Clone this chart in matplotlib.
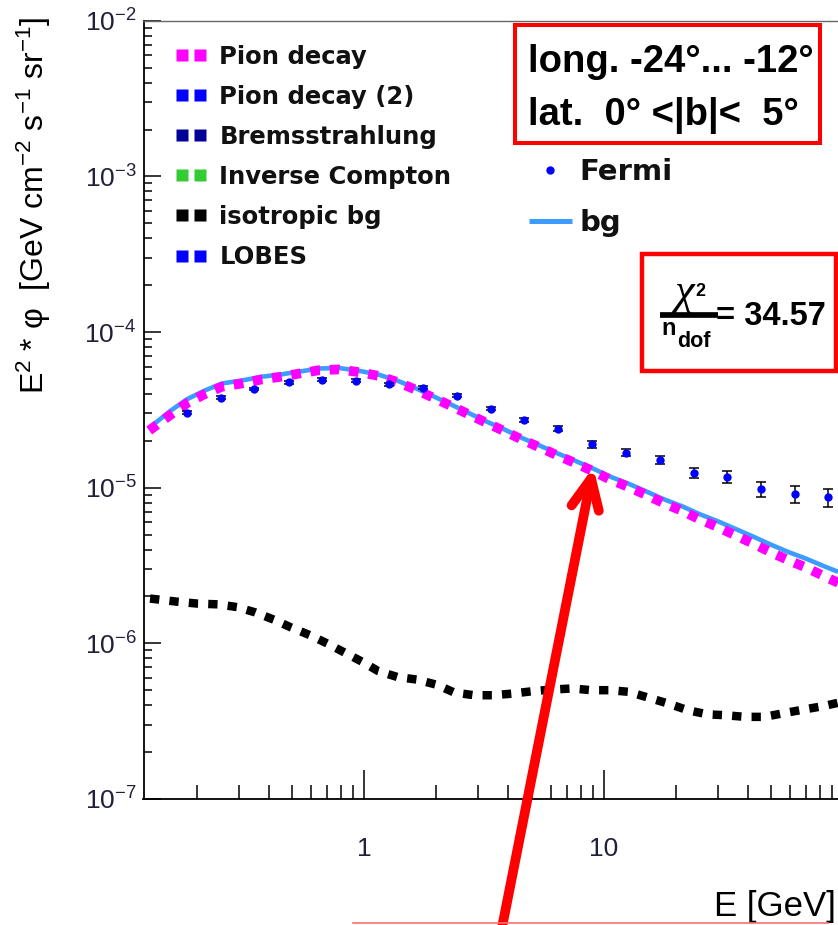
import numpy as np
import matplotlib
matplotlib.use('Agg')
import matplotlib.pyplot as plt
from matplotlib.lines import Line2D
from matplotlib.patches import Rectangle
from matplotlib.ticker import FixedLocator, LogLocator, NullFormatter, FixedFormatter, LogFormatterSciNotation

plt.rcParams['font.family'] = ['Liberation Sans', 'DejaVu Sans']
plt.rcParams['mathtext.fontset'] = 'custom'
plt.rcParams['mathtext.rm'] = 'Liberation Sans'
plt.rcParams['mathtext.it'] = 'Liberation Sans:italic'
plt.rcParams['mathtext.bf'] = 'Liberation Sans:bold'

# ---------------- data ----------------
fermi_E = [0.183, 0.252, 0.348, 0.485, 0.668, 0.926, 1.275, 1.768, 2.45, 3.38,
           4.67, 6.47, 8.96, 12.4, 17.1, 23.7, 32.8, 45.2, 62.6, 86.5]
fermi_F = [3.04e-5, 3.78e-5, 4.31e-5, 4.74e-5, 4.93e-5, 4.86e-5, 4.61e-5, 4.38e-5, 3.90e-5, 3.22e-5,
           2.73e-5, 2.39e-5, 1.90e-5, 1.68e-5, 1.50e-5, 1.25e-5, 1.17e-5, 9.8e-6, 9.1e-6, 8.65e-6]
fermi_relerr = [0.02, 0.02, 0.02, 0.02, 0.02, 0.02, 0.02, 0.02, 0.02, 0.025,
                0.03, 0.035, 0.05, 0.05, 0.06, 0.075, 0.09, 0.11, 0.13, 0.13]

model_E = [0.127, 0.155, 0.182, 0.215, 0.255, 0.311, 0.374, 0.446, 0.541, 0.651,
           0.789, 0.955, 1.147, 1.369, 1.632, 1.935, 2.29, 2.72, 3.24, 3.82,
           4.55, 5.34, 6.36, 7.59, 9.00, 10.6, 12.7, 15.0, 17.7, 21.2,
           25.0, 29.8, 35.3, 41.9, 49.4, 58.9, 69.8, 83.0, 95.0]
pion_F = [2.33e-5, 2.92e-5, 3.48e-5, 3.97e-5, 4.45e-5, 4.68e-5, 4.96e-5, 5.15e-5, 5.42e-5, 5.69e-5,
          5.75e-5, 5.52e-5, 5.23e-5, 4.79e-5, 4.28e-5, 3.80e-5, 3.37e-5, 2.97e-5, 2.61e-5, 2.32e-5,
          2.04e-5, 1.83e-5, 1.62e-5, 1.44e-5, 1.28e-5, 1.13e-5, 1.01e-5, 8.99e-6, 7.98e-6, 7.10e-6,
          6.28e-6, 5.60e-6, 4.95e-6, 4.38e-6, 3.87e-6, 3.42e-6, 3.07e-6, 2.70e-6, 2.45e-6]
bg_F = [2.42e-5, 3.10e-5, 3.69e-5, 4.19e-5, 4.67e-5, 4.89e-5, 5.16e-5, 5.33e-5, 5.58e-5, 5.83e-5,
        5.87e-5, 5.63e-5, 5.33e-5, 4.89e-5, 4.37e-5, 3.88e-5, 3.44e-5, 3.03e-5, 2.66e-5, 2.38e-5,
        2.09e-5, 1.88e-5, 1.67e-5, 1.49e-5, 1.33e-5, 1.18e-5, 1.06e-5, 9.48e-6, 8.46e-6, 7.60e-6,
        6.78e-6, 6.10e-6, 5.45e-6, 4.86e-6, 4.33e-6, 3.86e-6, 3.50e-6, 3.13e-6, 2.88e-6]

iso_E = [0.128, 0.167, 0.202, 0.246, 0.295, 0.352, 0.420, 0.493, 0.593, 0.703,
         0.836, 0.986, 1.148, 1.377, 1.66, 2.00, 2.38, 2.88, 3.47, 4.18,
         5.01, 6.09, 7.40, 8.88, 10.7, 12.7, 15.5, 18.6, 22.4, 27.0,
         32.4, 38.8, 46.8, 56.9, 69.2, 83.0, 95.0]
iso_F = [1.94e-6, 1.85e-6, 1.80e-6, 1.78e-6, 1.71e-6, 1.58e-6, 1.42e-6, 1.27e-6, 1.13e-6, 9.97e-7,
         8.67e-7, 7.59e-7, 6.62e-7, 6.08e-7, 5.85e-7, 5.43e-7, 4.83e-7, 4.64e-7, 4.64e-7, 4.76e-7,
         4.92e-7, 5.05e-7, 5.13e-7, 5.00e-7, 5.00e-7, 4.88e-7, 4.46e-7, 4.10e-7, 3.72e-7, 3.50e-7,
         3.45e-7, 3.37e-7, 3.37e-7, 3.57e-7, 3.77e-7, 3.96e-7, 4.15e-7]

legend_labels = ['Pion decay', 'Pion decay (2)', 'Bremsstrahlung', 'Inverse Compton', 'isotropic bg', 'LOBES']
legend_colors = ['#ff00ff', '#0000ff', '#000099', '#33cc33', '#000000', '#0000ff']

x_tick_vals = [1, 10, 100]
x_tick_labels = ['1', '10', '100']

# ---------------- figure ----------------
W, H = 838, 925
fig = plt.figure(figsize=(W / 100, H / 100), dpi=100)

def fx(px):
    return px / W

def fy(py):
    return 1 - py / H

ax_l, ax_r, ax_t, ax_b = 143.5, 838.0, 20.7, 799.0
ax = fig.add_axes([fx(ax_l), fy(ax_b), fx(ax_r) - fx(ax_l), fy(ax_t) - fy(ax_b)])
ax.set_xscale('log')
ax.set_yscale('log')
ax.set_xlim(0.1202, 94.9)
ax.set_ylim(1e-7, 1e-2)

BG_COL = '#3d9cff'
ax.plot(model_E, bg_F, color=BG_COL, lw=3.3, solid_capstyle='butt', zorder=2)
ax.plot(model_E, pion_F, color='#ff00ff', lw=7.0, linestyle=(0, (1.0, 1.0)),
        dash_capstyle='butt', zorder=3)
ax.plot(iso_E, iso_F, color='black', lw=6.1, linestyle=(0, (1.1, 1.2)),
        dash_capstyle='butt', zorder=3)

yerr = [f * e for f, e in zip(fermi_F, fermi_relerr)]
ax.errorbar(fermi_E, fermi_F, yerr=yerr, fmt='none', ecolor='black', elinewidth=1.1,
            capsize=3.6, capthick=1.1, zorder=4)
ax.plot(fermi_E, fermi_F, 'o', color='#0000ff', ms=6.0, mec='none', zorder=5)

# ticks
ax.xaxis.set_major_locator(FixedLocator(x_tick_vals))
ax.xaxis.set_major_formatter(FixedFormatter(x_tick_labels))
ax.xaxis.set_minor_locator(LogLocator(base=10, subs=np.arange(2, 10)))
ax.xaxis.set_minor_formatter(NullFormatter())
ax.yaxis.set_major_locator(LogLocator(base=10, numticks=10))
ax.yaxis.set_major_formatter(LogFormatterSciNotation())
ax.yaxis.set_minor_locator(LogLocator(base=10, subs=np.arange(2, 10), numticks=20))
ax.yaxis.set_minor_formatter(NullFormatter())

TICKCOL = '#20203a'
ax.tick_params(axis='x', which='major', direction='in', length=21, width=1.1, pad=27.5,
               labelsize=19, labelcolor=TICKCOL, top=False)
ax.tick_params(axis='x', which='minor', direction='in', length=10, width=1.1, top=False)
ax.tick_params(axis='y', which='major', direction='in', length=12, width=1.1, pad=5.0,
               labelsize=19, labelcolor=TICKCOL, right=False)
ax.tick_params(axis='y', which='minor', direction='in', length=6, width=1.1, right=False)

for s in ['left', 'bottom']:
    ax.spines[s].set_linewidth(1.3)
ax.spines['right'].set_visible(False)
ax.spines['top'].set_color('#666666')
ax.spines['top'].set_linewidth(1.0)

# axis labels
ax.set_xlabel('E [GeV]', fontsize=25, ha='right')
ax.xaxis.set_label_coords((836 - ax_l) / (ax_r - ax_l), -(890.0 - ax_b) / (ax_b - ax_t))
ax.set_ylabel('E$^{2}$ * φ  [GeV cm$^{-2}$ s$^{-1}$ sr$^{-1}$]', fontsize=23)
ax.yaxis.set_label_coords((53 - ax_l) / (ax_r - ax_l), (ax_b - 205) / (ax_b - ax_t))

# legend 1 (components)
h1 = [Line2D([], [], color=c, marker='s', ms=8.3, ls='none', mec='none') for c in legend_colors]
leg1 = ax.legend(h1, legend_labels, loc='upper left', bbox_to_anchor=(fx(174.7), fy(44.8)),
                 bbox_transform=fig.transFigure, frameon=False, numpoints=2,
                 handlelength=1.36, handletextpad=0.48, labelspacing=0.66,
                 borderpad=0, borderaxespad=0,
                 prop={'family': 'DejaVu Sans', 'weight': 'bold', 'size': 17.5})
for t in leg1.get_texts():
    t.set_color('#111111')
ax.add_artist(leg1)

# legend 2 (Fermi / bg)
h2 = [Line2D([], [], color='#0000ff', marker='o', ms=6.0, ls='none', mec='none'),
      Line2D([], [], color=BG_COL, lw=3.6, solid_capstyle='butt')]
leg2 = ax.legend(h2, ['Fermi', 'bg'], loc='upper left', bbox_to_anchor=(fx(529.3), fy(157.8)),
                 bbox_transform=fig.transFigure, frameon=False, numpoints=1,
                 handlelength=1.45, handletextpad=0.26, labelspacing=0.80,
                 borderpad=0, borderaxespad=0,
                 prop={'family': 'DejaVu Sans', 'weight': 'bold', 'size': 21})
for t in leg2.get_texts():
    t.set_color('#111111')

# ---------------- annotations (overlay) ----------------
RED = '#ff0000'
fig.add_artist(Rectangle((fx(514.7), fy(143.0)), fx(820.3) - fx(514.7), fy(24.7) - fy(143.0),
                         transform=fig.transFigure, fill=False, ec=RED, lw=2.9, zorder=10))
fig.text(fx(527.5), fy(71.7), 'long. -24°... -12°', fontsize=27.5, fontweight='bold',
         ha='left', va='baseline', zorder=11)
fig.text(fx(527.5), fy(125.0), 'lat.  0° <|b|<  5°', fontsize=27.5, fontweight='bold',
         ha='left', va='baseline', zorder=11)

fig.add_artist(Rectangle((fx(642.0), fy(371.0)), fx(835.5) - fx(642.0), fy(254.0) - fy(371.0),
                         transform=fig.transFigure, fill=False, ec=RED, lw=3.2, zorder=10))
# chi^2 / n_dof
fig.text(fx(684), fy(304), 'χ', family='Liberation Serif', style='italic', fontsize=32,
         ha='center', va='baseline', zorder=11)
fig.text(fx(700), fy(296), '2', fontsize=13, fontweight='bold', ha='center',
         va='baseline', zorder=11)
fig.add_artist(Line2D([fx(660), fx(718)], [fy(314.5), fy(314.5)], transform=fig.transFigure,
                      color='black', lw=4.1, solid_capstyle='butt', zorder=12))
fig.text(fx(661.5), fy(335), 'n', fontsize=17, fontweight='bold', ha='left', va='baseline', zorder=11)
fig.text(fx(677), fy(347), 'dof', fontsize=15.5, fontweight='bold', ha='left', va='baseline', zorder=11)
fig.text(fx(716), fy(325), '= 34.57', fontsize=23.5, fontweight='bold', ha='left',
         va='baseline', zorder=11)

# red arrow
ax.annotate('', xy=(593.3, H - 467.3), xycoords='figure pixels',
            xytext=(500.5, H - 935.0), textcoords='figure pixels',
            arrowprops=dict(arrowstyle='->,head_length=21.6,head_width=10', mutation_scale=1,
                            color=RED, lw=7.0, shrinkA=0, shrinkB=0,
                            capstyle='round', joinstyle='round'),
            annotation_clip=False, zorder=12)

# thin red line at the bottom edge
fig.add_artist(Line2D([fx(353), fx(828)], [fy(922.5), fy(922.5)], transform=fig.transFigure,
                      color='#ff7070', lw=1.2, zorder=10))

fig.savefig('out.png', dpi=100)
